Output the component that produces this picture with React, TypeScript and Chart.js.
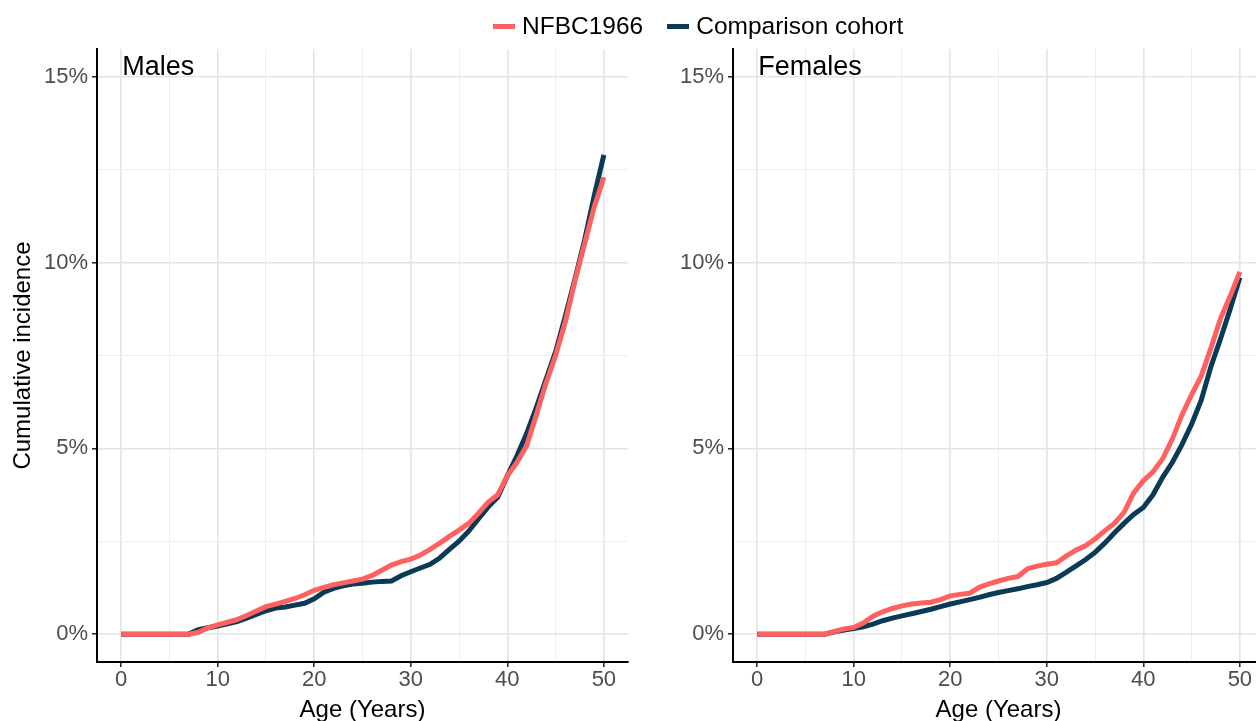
import React, { useEffect, useRef } from 'react';
import { Chart, registerables } from 'chart.js';

Chart.register(...registerables);

// ---------- data ----------
const ages = [0, 7, 8, 9, 10, 11, 12, 13, 14, 15, 16, 17, 18, 19, 20, 21, 22, 23, 24, 25, 26, 27, 28, 29, 30, 31, 32, 33, 34, 35, 36, 37, 38, 39, 40, 41, 42, 43, 44, 45, 46, 47, 48, 49, 50];

const malesNfbc = [0, 0, 0.05, 0.17, 0.25, 0.32, 0.39, 0.5, 0.62, 0.74, 0.81, 0.88, 0.96, 1.06, 1.18, 1.26, 1.33, 1.38, 1.43, 1.48, 1.58, 1.72, 1.86, 1.95, 2.02, 2.13, 2.28, 2.45, 2.63, 2.8, 2.98, 3.25, 3.55, 3.75, 4.26, 4.62, 5.07, 5.9, 6.75, 7.5, 8.4, 9.5, 10.5, 11.5, 12.3];
const malesComparison = [0, 0, 0.12, 0.17, 0.22, 0.28, 0.34, 0.43, 0.53, 0.63, 0.7, 0.73, 0.78, 0.83, 0.95, 1.13, 1.23, 1.3, 1.35, 1.37, 1.4, 1.42, 1.43, 1.57, 1.68, 1.78, 1.88, 2.05, 2.28, 2.5, 2.77, 3.1, 3.42, 3.68, 4.26, 4.8, 5.4, 6.1, 6.85, 7.6, 8.55, 9.55, 10.6, 11.8, 12.9];

const femalesNfbc = [0, 0, 0.07, 0.14, 0.18, 0.3, 0.48, 0.6, 0.69, 0.76, 0.81, 0.84, 0.86, 0.93, 1.03, 1.07, 1.1, 1.26, 1.35, 1.43, 1.5, 1.55, 1.76, 1.83, 1.88, 1.92, 2.1, 2.26, 2.38, 2.56, 2.78, 2.98, 3.28, 3.8, 4.13, 4.37, 4.72, 5.25, 5.9, 6.45, 6.95, 7.7, 8.5, 9.1, 9.75];
const femalesComparison = [0, 0, 0.06, 0.11, 0.15, 0.2, 0.27, 0.36, 0.43, 0.49, 0.55, 0.61, 0.67, 0.74, 0.81, 0.87, 0.93, 0.99, 1.06, 1.12, 1.17, 1.22, 1.28, 1.33, 1.39, 1.5, 1.66, 1.83, 2.0, 2.2, 2.45, 2.72, 2.98, 3.22, 3.41, 3.75, 4.22, 4.62, 5.1, 5.65, 6.3, 7.2, 7.95, 8.75, 9.6];

const xMajorTicks = [0, 10, 20, 30, 40, 50];
const xMinorTicks = [5, 15, 25, 35, 45];
const yMajorTicks = [0, 5, 10, 15];
const yMinorTicks = [2.5, 7.5, 12.5];

const seriesNames = ['NFBC1966', 'Comparison cohort'];
const panelTitles = ['Males', 'Females'];
const xAxisTitle = 'Age (Years)';
const yAxisTitle = 'Cumulative incidence';

// ---------- styles ----------
const FONT = "'Liberation Sans', Arial, Helvetica, sans-serif";
const COLORS = ['#FF6161', '#0A3A56'];
const CANVAS_W = 640;
const CANVAS_H = 725;

const panelLabelPlugin = {
  id: 'panelLabel',
  afterDatasetsDraw(chart: any, _args: any, opts: any) {
    const { ctx, scales, chartArea } = chart;
    ctx.save();
    ctx.font = `27px ${FONT}`;
    ctx.fillStyle = '#000';
    ctx.textAlign = 'left';
    ctx.textBaseline = 'alphabetic';
    ctx.fillText(opts.text, scales.x.getPixelForValue(0) + 1, chartArea.top + 26);
    ctx.restore();
  },
};

function buildConfig(nfbc: number[], comparison: number[], title: string, showYTitle: boolean): any {
  const toPoints = (vals: number[]) => ages.map((a, i) => ({ x: a, y: vals[i] }));
  const allX = [...xMajorTicks, ...xMinorTicks].sort((a, b) => a - b);
  const allY = [...yMajorTicks, ...yMinorTicks].sort((a, b) => a - b);
  const isMajorX = (v: number) => xMajorTicks.includes(v);
  const isMajorY = (v: number) => yMajorTicks.includes(v);
  return {
    type: 'line',
    data: {
      datasets: [
        {
          label: seriesNames[0],
          data: toPoints(nfbc),
          borderColor: COLORS[0],
          backgroundColor: COLORS[0],
          borderWidth: 5,
          pointRadius: 0,
          tension: 0,
          fill: false,
          order: 0,
        },
        {
          label: seriesNames[1],
          data: toPoints(comparison),
          borderColor: COLORS[1],
          backgroundColor: COLORS[1],
          borderWidth: 5,
          pointRadius: 0,
          tension: 0,
          fill: false,
          order: 1,
        },
      ],
    },
    options: {
      animation: false,
      responsive: false,
      maintainAspectRatio: false,
      events: [],
      layout: { padding: { left: 0, right: 12, top: 49, bottom: 0 } },
      plugins: {
        legend: { display: false },
        tooltip: { enabled: false },
        panelLabel: { text: title },
      },
      scales: {
        x: {
          type: 'linear',
          min: -2.5,
          max: 52.5,
          afterBuildTicks: (s: any) => {
            s.ticks = allX.map((v) => ({ value: v }));
          },
          afterFit: (s: any) => {
            s.height = 63;
          },
          ticks: {
            autoSkip: false,
            maxRotation: 0,
            padding: 0,
            color: '#4d4d4d',
            font: { family: FONT, size: 22 },
            callback: (v: number) => (isMajorX(v) ? String(v) : ''),
          },
          grid: {
            color: (c: any) => (isMajorX(c.tick?.value) ? '#e4e4e4' : '#eeeeee'),
            lineWidth: (c: any) => (isMajorX(c.tick?.value) ? 1.6 : 1),
            tickLength: 5,
            tickColor: (c: any) => (isMajorX(c.tick?.value) ? '#222' : 'rgba(0,0,0,0)'),
            tickWidth: 1.5,
          },
          border: { display: true, color: '#000', width: 2 },
          title: {
            display: true,
            text: xAxisTitle,
            color: '#000',
            font: { family: FONT, size: 24 },
            padding: { top: 0, bottom: 0 },
          },
        },
        y: {
          type: 'linear',
          min: -0.75,
          max: 15.75,
          afterBuildTicks: (s: any) => {
            s.ticks = allY.map((v) => ({ value: v }));
          },
          afterFit: (s: any) => {
            s.width = 97;
          },
          ticks: {
            autoSkip: false,
            padding: 4,
            color: '#4d4d4d',
            font: { family: FONT, size: 22 },
            callback: (v: number) => (isMajorY(v) ? `${v}%` : ''),
          },
          grid: {
            color: (c: any) => (isMajorY(c.tick?.value) ? '#e4e4e4' : '#eeeeee'),
            lineWidth: (c: any) => (isMajorY(c.tick?.value) ? 1.6 : 1),
            tickLength: 5,
            tickColor: (c: any) => (isMajorY(c.tick?.value) ? '#222' : 'rgba(0,0,0,0)'),
            tickWidth: 1.5,
          },
          border: { display: true, color: '#000', width: 2 },
          title: {
            display: showYTitle,
            text: yAxisTitle,
            color: '#000',
            font: { family: FONT, size: 24 },
            padding: { top: 9, bottom: 0 },
          },
        },
      },
    },
    plugins: [panelLabelPlugin],
  };
}

function Panel(props: { nfbc: number[]; comparison: number[]; title: string; showYTitle: boolean; left: number }) {
  const ref = useRef<HTMLCanvasElement | null>(null);
  useEffect(() => {
    if (!ref.current) return;
    const chart = new Chart(ref.current, buildConfig(props.nfbc, props.comparison, props.title, props.showYTitle));
    return () => chart.destroy();
  }, []);
  return (
    <canvas
      ref={ref}
      width={CANVAS_W}
      height={CANVAS_H}
      style={{ position: 'absolute', left: props.left, top: 0, width: CANVAS_W, height: CANVAS_H }}
    />
  );
}

export default function App() {
  const legendKey = (color: string, ml: number) => (
    <span
      style={{ display: 'inline-block', width: 22, height: 5, background: color, marginLeft: ml, marginRight: 7 }}
    />
  );
  return (
    <div
      style={{
        position: 'fixed',
        left: 0,
        top: 0,
        width: 1256,
        height: 721,
        overflow: 'hidden',
        background: '#fff',
      }}
    >
      <Panel nfbc={malesNfbc} comparison={malesComparison} title={panelTitles[0]} showYTitle={true} left={0} />
      <Panel nfbc={femalesNfbc} comparison={femalesComparison} title={panelTitles[1]} showYTitle={false} left={636} />
      <div
        style={{
          position: 'absolute',
          top: 12,
          left: 493,
          display: 'flex',
          alignItems: 'center',
          fontFamily: FONT,
          fontSize: 24.5,
          lineHeight: '28px',
          color: '#000',
          whiteSpace: 'nowrap',
        }}
      >
        {legendKey(COLORS[0], 0)}
        <span>{seriesNames[0]}</span>
        {legendKey(COLORS[1], 24)}
        <span>{seriesNames[1]}</span>
      </div>
    </div>
  );
}
